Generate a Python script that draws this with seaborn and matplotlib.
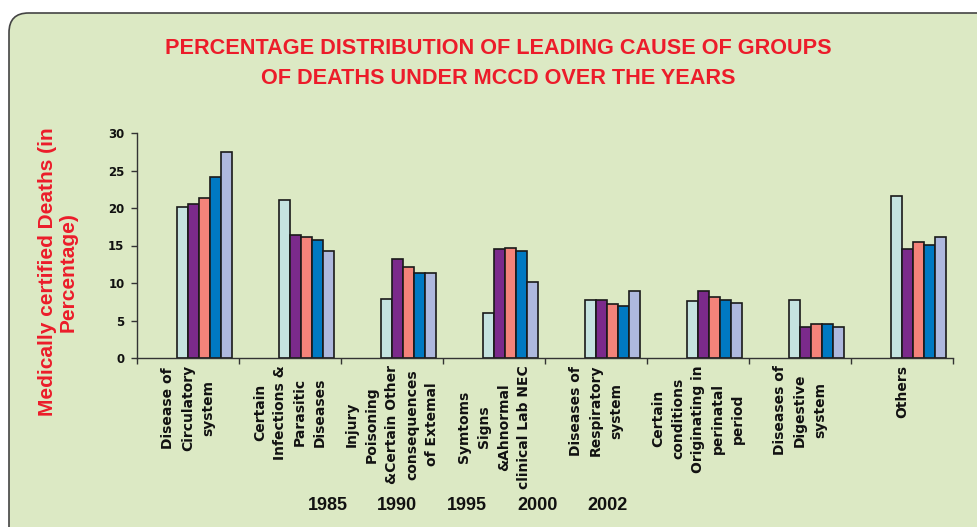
import numpy as np
import pandas as pd
import seaborn as sns
import matplotlib.pyplot as plt
from matplotlib.patches import FancyBboxPatch
from matplotlib.lines import Line2D

causes = [
    "Disease of\nCirculatory\nsystem",
    "Certain\nInfections &\nParasitic\nDiseases",
    "Injury\nPoisoning\n&Certain Other\nconsequences\nof Extemal",
    "Symtoms\nSigns\n&Ahnormal\nclinical Lab NEC",
    "Diseases of\nRespiratory\nsystem",
    "Certain\nconditions\nOriginating in\nperinatal\nperiod",
    "Diseases of\nDigestive\nsystem",
    "Others",
]
years = ["1985", "1990", "1995", "2000", "2002"]
pct_1985 = [20.2, 21.1, 7.9, 6.0, 7.7, 7.6, 7.7, 21.6]
pct_1990 = [20.6, 16.4, 13.2, 14.5, 7.7, 9.0, 4.1, 14.5]
pct_1995 = [21.3, 16.2, 12.1, 14.7, 7.2, 8.1, 4.5, 15.5]
pct_2000 = [24.2, 15.7, 11.4, 14.3, 7.0, 7.7, 4.5, 15.1]
pct_2002 = [27.5, 14.3, 11.4, 10.1, 9.0, 7.4, 4.1, 16.2]
colors = ["#C5E3E0", "#7B2A8B", "#F4837A", "#0079C2", "#AEB8DE"]

# the source chart had three empty series ahead of the real ones
blank = [" ", "  ", "   "]

rows = []
for yr, vals in zip(years, [pct_1985, pct_1990, pct_1995, pct_2000, pct_2002]):
    for c, v in zip(causes, vals):
        rows.append({"cause": c, "year": yr, "pct": v})
df = pd.DataFrame(rows)

red = "#EC1C2A"
bg = "#DCE9C4"

sns.set_style("white")
plt.rcParams["font.family"] = ["Liberation Sans", "DejaVu Sans"]
plt.rcParams["text.color"] = "#111111"
plt.rcParams["xtick.color"] = "#111111"
plt.rcParams["ytick.color"] = "#111111"

fig = plt.figure(figsize=(9.77, 5.27), dpi=100)
fig.patch.set_facecolor("white")
panel = FancyBboxPatch((9 / 977, -0.2), 1.2, 1 - 13 / 527 + 0.2,
                       boxstyle="round,pad=0,rounding_size=0.02",
                       transform=fig.transFigure, facecolor=bg,
                       edgecolor="#444444", linewidth=1.2, zorder=-10,
                       mutation_aspect=977 / 527)
fig.patches.append(panel)

ax = fig.add_axes([137 / 977, 1 - 358 / 527, (953 - 137) / 977, (358 - 133) / 527])
ax.set_facecolor("none")

pal = dict(zip(blank + years, ["#ffffff"] * 3 + colors))
sns.barplot(data=df, x="cause", y="pct", hue="year", order=causes,
            hue_order=blank + years, palette=pal, width=1 - 14 / 102,
            edgecolor="#1a1a1a", linewidth=1.2, saturation=1,
            legend=False, ax=ax)

ax.set_xlim(-0.5, len(causes) - 0.5)
ax.set_ylim(0, 30)
ax.set_yticks(np.arange(0, 31, 5))
ax.set_yticklabels([str(v) for v in range(0, 31, 5)], fontsize=8.5,
                   fontweight="bold", family="DejaVu Sans")

ax.set_xticks(np.arange(len(causes) + 1) - 0.5)
ax.set_xticklabels([])
ax.set_xticks(np.arange(len(causes)), minor=True)
ax.set_xticklabels(causes, minor=True, rotation=90, fontsize=10,
                   fontweight="bold", family="DejaVu Sans", va="top",
                   ha="center", multialignment="center", linespacing=1.55)
ax.tick_params(axis="x", which="minor", bottom=False, length=0, pad=5)
ax.tick_params(axis="x", which="major", bottom=True, direction="out",
               length=4, width=1, color="#333333")
ax.tick_params(axis="y", left=True, direction="out", length=4, width=1,
               color="#333333", pad=5)
for s in ["top", "right"]:
    ax.spines[s].set_visible(False)
for s in ["left", "bottom"]:
    ax.spines[s].set_color("#333333")
    ax.spines[s].set_linewidth(1)

ax.set_xlabel("")
ax.set_ylabel("Medically certified Deaths (in\nPercentage)", color=red,
              fontsize=15, fontweight="bold", linespacing=1.15)
ax.yaxis.set_label_coords((78 - 137) / 816, (358 - 272) / 225)

fig.text(498 / 977, 1 - 63.5 / 527,
         "PERCENTAGE DISTRIBUTION OF LEADING CAUSE OF GROUPS\nOF DEATHS UNDER MCCD OVER THE YEARS",
         ha="center", va="center", color=red, fontsize=15.6, fontweight="bold",
         linespacing=1.5)

handles = [Line2D([], [], linestyle="none") for _ in years]
fig.legend(handles, years, loc="center", bbox_to_anchor=(467.5 / 977, 1 - 506 / 527),
           ncol=5, frameon=False, handlelength=0, handletextpad=0,
           columnspacing=1.65, prop={"weight": "bold", "size": 13})

fig.savefig("out.png", dpi=100, facecolor=fig.get_facecolor())
